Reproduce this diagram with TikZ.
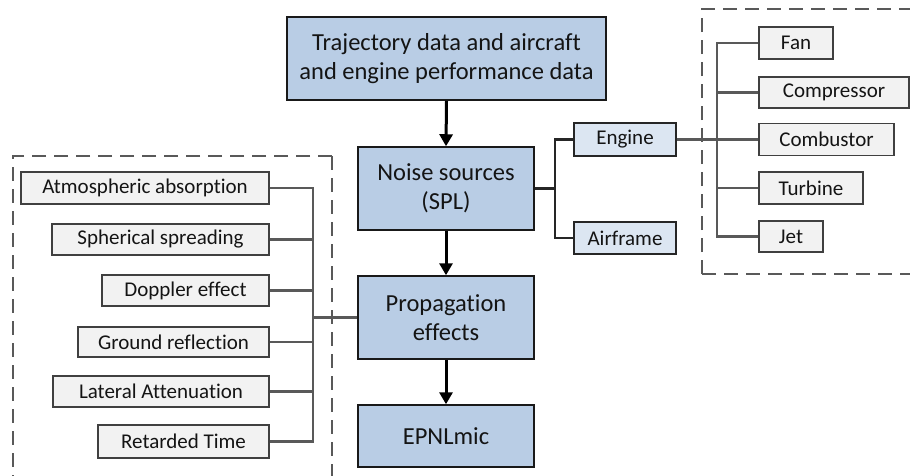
\documentclass[tikz,border=0pt]{standalone}
\usepackage{fontspec}
\setmainfont{Carlito}[Ligatures={NoCommon}]
\usetikzlibrary{arrows.meta}
\definecolor{bluefill}{HTML}{B9CDE5}
\definecolor{lightblue}{HTML}{DCE6F2}
\definecolor{grayfill}{HTML}{F2F2F2}
\definecolor{linegray}{HTML}{595959}
\definecolor{txt}{HTML}{141414}
\tikzset{
  mainbox/.style={draw=black!90, fill=bluefill, line width=1.5pt, inner sep=0pt, align=center, text=txt,
    font=\fontsize{24.5}{28.5}\selectfont},
  subbox/.style={draw=black!85, fill=lightblue, line width=1.4pt, inner sep=0pt, align=center, text=txt,
    font=\fontsize{21}{24}\selectfont},
  graybox/.style={draw=black!75, fill=grayfill, line width=1.4pt, inner sep=0pt, align=center, text=txt,
    font=\fontsize{21}{24}\selectfont},
  flowarrow/.style={line width=3pt, black, -{Triangle[length=12pt,width=13pt]}},
  darkconn/.style={line width=2.2pt, black!85},
  grayconn/.style={line width=2.2pt, linegray},
  groupframe/.style={line width=2.2pt, linegray, dash pattern=on 14pt off 8pt},
}
\begin{document}
\begin{tikzpicture}[x=1pt, y=-1pt]
\useasboundingbox (0,0) rectangle (910,475);
% dashed group frames
\begin{scope}
\clip (0,0) rectangle (910,475);
\draw[groupframe] (332,156) -- (13,156) -- (13,490) (332,156) -- (332,490);
\draw[groupframe] (702,274) -- (702,9) -- (925,9) (702,274) -- (925,274);
\end{scope}
% main flow
\node[mainbox, minimum width=319pt, minimum height=83pt] (top) at (446.5,58.5) {Trajectory data and aircraft\\and engine performance data};
\node[mainbox, minimum width=176pt, minimum height=83pt] (noise) at (446,188.5) {Noise sources\\(SPL)};
\node[mainbox, minimum width=176pt, minimum height=83pt] (prop) at (446,317.5) {Propagation\\effects};
\node[mainbox, minimum width=176pt, minimum height=62pt] (epnl) at (446,436) {EPNLmic};
\draw[flowarrow] (top.south) -- (noise.north);
\draw[flowarrow] (noise.south) -- (prop.north);
\draw[flowarrow] (prop.south) -- (epnl.north);
% noise sources
\node[subbox, minimum width=102pt, minimum height=33pt] (engine) at (625,139.5) {Engine};
\node[subbox, minimum width=102pt, minimum height=32pt] (airframe) at (625,238) {Airframe};
\coordinate (nb) at (555,188.5);
\draw[darkconn] (noise.east) -- (nb);
\draw[darkconn] (nb) |- (engine.west);
\draw[darkconn] (nb) |- (airframe.west);
% engine components
\node[graybox, minimum width=74pt, minimum height=32pt] (fan) at (796,43) {Fan};
\node[graybox, minimum width=150pt, minimum height=31pt] (comp) at (834,92.5) {Compressor};
\node[graybox, minimum width=135pt, minimum height=32pt] (comb) at (826.5,139.5) {Combustor};
\node[graybox, minimum width=104pt, minimum height=32pt] (turb) at (811,188) {Turbine};
\node[graybox, minimum width=64pt, minimum height=31pt] (jet) at (791,236.5) {Jet};
\coordinate (rb) at (717,139.5);
\draw[grayconn] (engine.east) -- (comb.west);
\draw[grayconn] (fan.west) -| (rb);
\draw[grayconn] (comp.west) -| (rb);
\draw[grayconn] (turb.west) -| (rb);
\draw[grayconn] (jet.west) -| (rb);
% propagation effects
\node[graybox, minimum width=248pt, minimum height=32pt] (atm) at (145,188) {Atmospheric absorption};
\node[graybox, minimum width=217pt, minimum height=31pt] (sph) at (160.5,239.5) {Spherical spreading};
\node[graybox, minimum width=167pt, minimum height=31pt] (dop) at (185.5,290.5) {Doppler effect};
\node[graybox, minimum width=191pt, minimum height=30pt] (gnd) at (173.5,342) {Ground reflection};
\node[graybox, minimum width=216pt, minimum height=31pt] (lat) at (161,391.5) {Lateral Attenuation};
\node[graybox, minimum width=171pt, minimum height=33pt] (ret) at (183.5,441.5) {Retarded Time};
\coordinate (lb) at (313,317.5);
\draw[grayconn] (lb) -- (prop.west);
\draw[grayconn] (atm.east) -| (lb);
\draw[grayconn] (sph.east) -| (lb);
\draw[grayconn] (dop.east) -| (lb);
\draw[grayconn] (gnd.east) -| (lb);
\draw[grayconn] (lat.east) -| (lb);
\draw[grayconn] (ret.east) -| (lb);
\end{tikzpicture}
\end{document}
